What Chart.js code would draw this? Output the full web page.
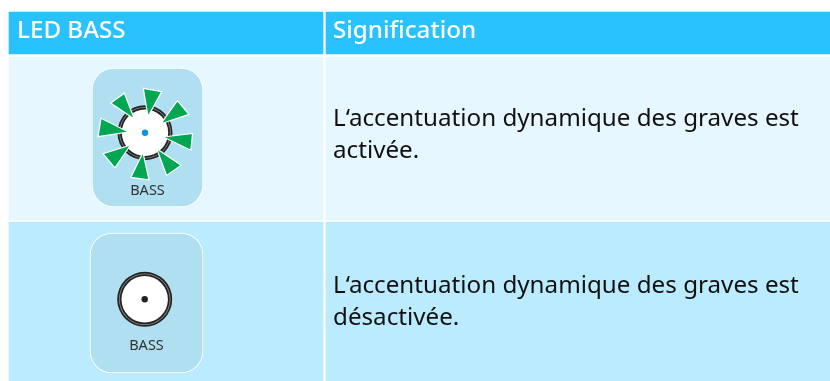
<!DOCTYPE html>
<html>
<head>
<meta charset="utf-8">
<title>LED BASS</title>
<script src="https://cdn.jsdelivr.net/npm/chart.js@4/dist/chart.umd.js"></script>
<style>
  html, body { margin: 0; padding: 0; background: #fff; }
  canvas { display: block; }
</style>
</head>
<body>
<canvas id="chart" width="830" height="381"></canvas>
<script>
// table text
const headers = ["LED BASS", "Signification"];
const rowTextOn = ["L\u2018accentuation dynamique des graves est", "activ\u00e9e."];
const rowTextOff = ["L\u2018accentuation dynamique des graves est", "d\u00e9sactiv\u00e9e."];
const panelLabel = "BASS";

// table grid, in picture units
const columnEdges = [[9, 323], [326, 830]];
const rowEdges = [[12, 54], [57, 220], [222, 381]];

// LED panels: left, right, top, bottom
const panelOn = [92, 203, 68, 207];
const panelOff = [90, 203, 233, 373];
const ledOn = { x: 145, y: 132.7 };
const ledOff = { x: 144.7, y: 299.3 };

// green wedges, apex then the two base corners
const wedges = [
  [[148, 116.6], [143.3, 88.3], [161.7, 91.6]],
  [[161, 123.7], [177.4, 100.6], [188.9, 114.4]],
  [[163.3, 137], [192.6, 133.4], [190.8, 150.2]],
  [[156.7, 148.7], [181.2, 165.2], [166.6, 175.4]],
  [[142.9, 152.4], [149, 179.9], [130.8, 177.4]],
  [[130.6, 145], [114.9, 167.8], [103.1, 153.8]],
  [[128.5, 132], [101, 118.3], [98, 136.7]],
  [[134.3, 119], [124.4, 93.2], [110.6, 103.1]]
];

function cell(col, row, color){
  return {
    type: "bar",
    data: [{ x: (col[0] + col[1]) / 2, y: [row[0], row[1]] }],
    barThickness: col[1] - col[0],
    grouped: false,
    backgroundColor: color,
    borderWidth: 0
  };
}

function panel(p, color){
  return {
    type: "bar",
    data: [{ x: (p[0] + p[1]) / 2, y: [p[2], p[3]] }],
    barThickness: p[1] - p[0],
    grouped: false,
    backgroundColor: color,
    borderColor: "#ffffff",
    borderWidth: 1,
    borderSkipped: false,
    borderRadius: 22
  };
}

function dot(pos, radius, color){
  return {
    type: "scatter",
    data: [pos],
    pointRadius: radius,
    pointBackgroundColor: color,
    pointBorderWidth: 0
  };
}

function wedge(tri){
  return {
    type: "line",
    data: tri.concat([tri[0]]).map(p => ({ x: p[0], y: p[1] })),
    fill: "shape",
    tension: 0,
    backgroundColor: "#00a651",
    borderColor: "#ffffff",
    borderWidth: 1.2,
    pointRadius: 0
  };
}

function led(pos, centre){
  return [
    dot(pos, 27.5, "#232323"),
    dot(pos, 25.8, "#8c8c8c"),
    dot(pos, 25, "#232323"),
    dot(pos, 23.2, "#ffffff"),
    dot(pos, 3.2, centre)
  ];
}

// listed bottom layer first, order is set below so the library paints them in this sequence
const layers = [
  cell(columnEdges[0], rowEdges[0], "#29c2ff"),
  cell(columnEdges[1], rowEdges[0], "#29c2ff"),
  cell(columnEdges[0], rowEdges[1], "#e6f7ff"),
  cell(columnEdges[1], rowEdges[1], "#e6f7ff"),
  cell(columnEdges[0], rowEdges[2], "#bbebff"),
  cell(columnEdges[1], rowEdges[2], "#bbebff"),
  panel(panelOn, "#b0dff2"),
  panel(panelOff, "#b0dff2"),
  ...led(ledOn, "#0f95d8"),
  ...led(ledOff, "#222222"),
  ...wedges.map(wedge)
];
layers.forEach((d, i) => { d.order = layers.length - i; });

const tableText = {
  id: "tableText",
  afterDatasetsDraw(c){
    const ctx = c.ctx;
    const x = c.scales.x;
    const y = c.scales.y;
    function put(str, px, py, font, color, align){
      ctx.font = font;
      ctx.fillStyle = color;
      ctx.textAlign = align || "left";
      ctx.textBaseline = "alphabetic";
      ctx.fillText(str, x.getPixelForValue(px), y.getPixelForValue(py));
    }
    ctx.save();
    const head = "500 24.2px 'Noto Sans'";
    const body = "24.2px 'Noto Sans'";
    const small = "14.5px 'Noto Sans'";
    put(headers[0], 17, 38, head, "#ffffff");
    put(headers[1], 333, 38, head, "#ffffff");
    put(rowTextOn[0], 333, 126, body, "#111111");
    put(rowTextOn[1], 333, 158, body, "#111111");
    put(rowTextOff[0], 333, 293, body, "#111111");
    put(rowTextOff[1], 333, 324.5, body, "#111111");
    put(panelLabel, 147.5, 194.5, small, "#333333", "center");
    put(panelLabel, 146.5, 349.5, small, "#333333", "center");
    ctx.restore();
  }
};

new Chart(document.getElementById("chart"), {
  type: "bar",
  data: { datasets: layers },
  options: {
    responsive: false,
    animation: false,
    events: [],
    layout: { padding: 0, autoPadding: false },
    plugins: { legend: { display: false }, tooltip: { enabled: false } },
    scales: {
      x: { type: "linear", min: 0, max: 830, offset: false, display: false },
      y: { type: "linear", min: 0, max: 381, offset: false, reverse: true, display: false }
    }
  },
  plugins: [tableText]
});
</script>
</body>
</html>
